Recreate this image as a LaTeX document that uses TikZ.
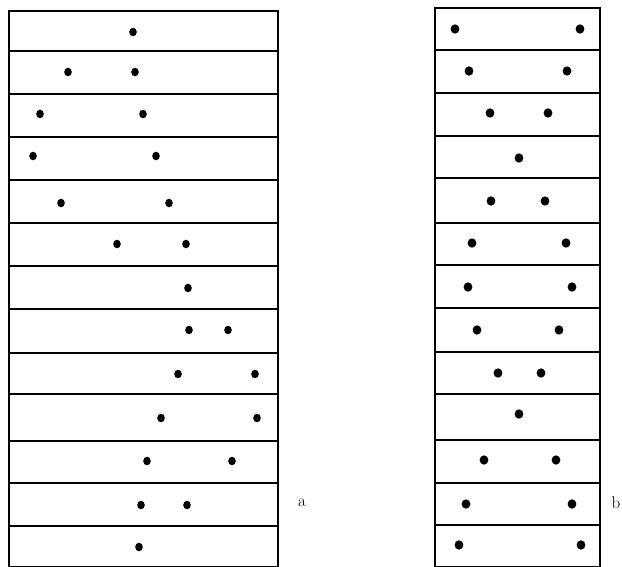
\documentclass[tikz,border=0pt]{standalone}
\begin{document}
\begin{tikzpicture}[x=1pt,y=-1pt,
  rowline/.style={line width=1.8pt},
  dot/.style={fill=black},
  lbl/.style={font=\fontsize{17}{17}\selectfont, inner sep=0pt}]
\useasboundingbox (0,0) rectangle (622,566);
% left column a
\draw[rowline] (9,11) rectangle (278,567);
\foreach \y in {51,94,137,180,223,266,309,353,394,441,483,526}
  \draw[rowline] (9,\y) -- (278,\y);
% right column b
\draw[rowline] (435,8) rectangle (600,567);
\foreach \y in {50,93,136,178,223,265,308,352,394,440,483,525}
  \draw[rowline] (435,\y) -- (600,\y);
% dots in a
\foreach \x/\y in {133/32, 68/72,135/72, 40/114,143/114, 33/156,156/156,
  61/203,169/203, 117/244,186/244, 188/288, 189/330,228/330, 178/374,255/374,
  161/418,257/418, 147/461,232/461, 141/505,187/505, 139/547}
  \fill[dot] (\x,\y) ellipse [x radius=3.8, y radius=4.3];
% dots in b
\foreach \x/\y in {455/29,580/29, 469/71,567/71, 490/113,548/113, 519/158,
  491/201,545/201, 472/243,566/243, 468/287,572/287, 477/330,559/330,
  498/373,541/373, 519/414, 484/460,556/460, 466/504,572/504, 459/545,581/545}
  \fill[dot] (\x,\y) ellipse [x radius=4.4, y radius=4.7];
\node[lbl] (la) at (302,503) {a};
\node[lbl] (lb) at (616,503) {b};
\end{tikzpicture}
\end{document}
